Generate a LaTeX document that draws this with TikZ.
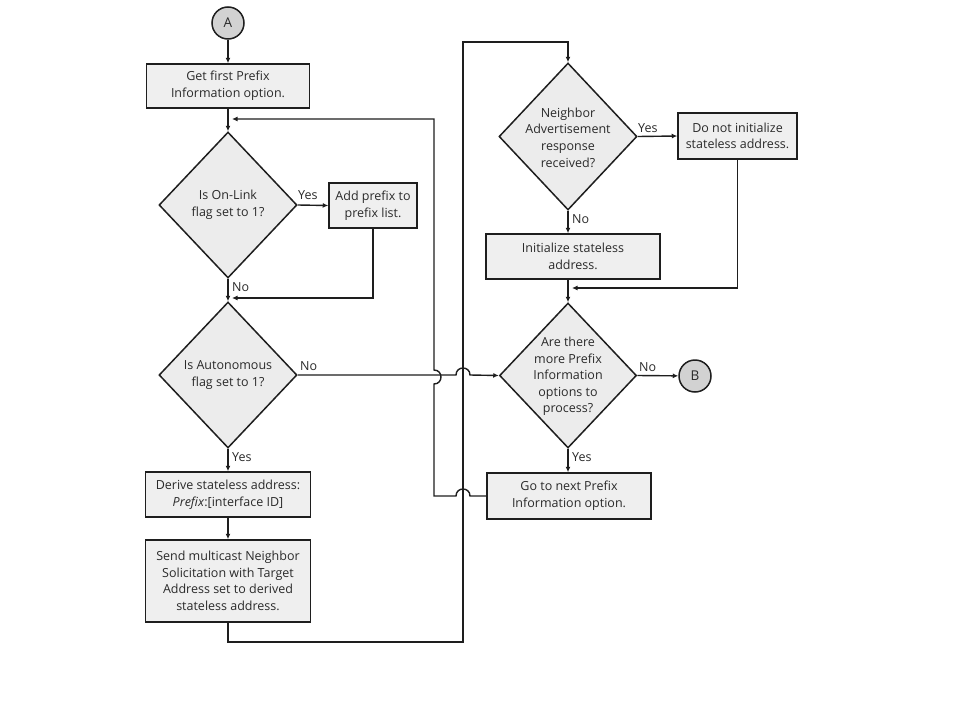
\documentclass[tikz,border=0pt]{standalone}
\usepackage{fontspec}
\setmainfont{Open Sans}
\usetikzlibrary{shapes.geometric,arrows.meta}
\definecolor{linec}{HTML}{1E1E1E}
\definecolor{boxfill}{HTML}{EFEFEF}
\definecolor{diafill}{HTML}{ECECEC}
\definecolor{circfill}{HTML}{D2D2D2}
\definecolor{txt}{HTML}{2A2A2A}
\tikzset{
  box/.style={draw=linec, fill=boxfill, line width=1.5pt, inner sep=0pt, text=txt, align=center, font=\fontsize{12.5}{16.6}\selectfont},
  dia/.style={draw=linec, fill=diafill, line width=1.5pt, diamond, inner sep=0pt},
  diatext/.style={text=txt, align=center, font=\fontsize{12.5}{16.6}\selectfont, inner sep=0pt},
  term/.style={draw=linec, fill=circfill, line width=1.5pt, circle, minimum size=32pt, inner sep=0pt, text=txt, font=\fontsize{13.5}{15}\selectfont},
  lbl/.style={text=txt, font=\fontsize{12.5}{14}\selectfont, inner sep=0pt},
  conn/.style={draw=linec, line width=1.4pt},
  arr/.style={conn, -{Latex[length=5.5pt,width=5pt]}}
}
\begin{document}
\begin{tikzpicture}[x=1pt,y=-1pt]
\useasboundingbox[fill=white] (0,0) rectangle (960,720);
% left column
\node[term] (A) at (228,23) {A};
\node[box, minimum width=163pt, minimum height=44pt] (b1) at (228,86) {Get first Prefix\\Information option.};
\node[dia, minimum width=138pt, minimum height=146pt] (d1) at (228,205) {};
\node[diatext] (d1t) at (228,205) {Is On-Link\\flag set to 1?};
\node[box, minimum width=88pt, minimum height=45pt] (b2) at (373,205.5) {Add prefix to\\prefix list.};
\node[dia, minimum width=138pt, minimum height=146pt] (d2) at (228,375) {};
\node[diatext] (d2t) at (228,375) {Is Autonomous\\flag set to 1?};
\node[box, minimum width=165pt, minimum height=45pt] (b3) at (228,494.5) {Derive stateless address:\\\textit{Prefix}:[interface ID]};
\node[box, minimum width=165pt, minimum height=82pt] (b4) at (228,581) {Send multicast Neighbor\\Solicitation with Target\\Address set to derived\\stateless address.};
% right column
\node[dia, minimum width=138pt, minimum height=147pt] (d3) at (568,136.5) {};
\node[diatext] (d3t) at (568,137.5) {Neighbor\\Advertisement\\response\\received?};
\node[box, minimum width=119pt, minimum height=46pt] (b5) at (737.5,136) {Do not initialize\\stateless address.};
\node[box, minimum width=174pt, minimum height=45pt] (b6) at (573,256.5) {Initialize stateless\\address.};
\node[dia, minimum width=137pt, minimum height=145pt] (d4) at (568,375.5) {};
\node[diatext] (d4t) at (568,376.5) {Are there\\more Prefix\\Information\\options to\\process?};
\node[term] (B) at (695,376) {B};
\node[box, minimum width=164pt, minimum height=46pt] (b7) at (569,496) {Go to next Prefix\\Information option.};
% labels
\node[lbl, anchor=south west] (l1) at (298,200) {Yes};
\node[lbl, anchor=west] (l2) at (232,287) {No};
\node[lbl, anchor=south west] (l3) at (300,371) {No};
\node[lbl, anchor=west] (l4) at (232,457) {Yes};
\node[lbl, anchor=south west] (l5) at (638,133) {Yes};
\node[lbl, anchor=west] (l6) at (572,219) {No};
\node[lbl, anchor=south west] (l7) at (639,372) {No};
\node[lbl, anchor=west] (l8) at (572,457) {Yes};
% helper coordinates
\coordinate (j1) at (232,298);
\coordinate (j2) at (232,119);
\coordinate (j3) at (572,288);
% connectors
\draw[arr] (A) -- (b1);
\draw[arr] (b1) -- (d1.north);
\draw[arr] (d1.east) -- (b2.west);
\draw[arr] (d1.south) -- (d2.north);
\draw[arr] (b2.south) |- (j1);
\draw[arr] (d2.south) -- (b3.north);
\draw[arr] (b3) -- (b4);
\draw[arr] (d3.east) -- (b5.west);
\draw[arr] (d3.south) -- (d3.south |- b6.north);
\draw[arr] (b5.south) |- (j3);
\draw[arr] (b6.south -| d4.north) -- (d4.north);
\draw[arr] (d4.east) -- (B);
\draw[arr] (d4.south) -- (d4.south |- b7.north);
% autonomous No -> d4 with jump over x=463
\draw[arr] (d2.east) -- (456,375) .. controls (456,365.7) and (470,365.7) .. (470,375) -- (d4.west);
% send multicast -> neighbor advertisement diamond
\draw[arr] (b4.south) -- (228,642) -- (463,642) -- (463,42) -- (568,42) -- (d3.north);
% go to next -> back to top, jumping
\draw[arr] (b7.west |- 0,496) -- (470,496) .. controls (470,486.7) and (456,486.7) .. (456,496) -- (434,496) -- (434,384) .. controls (443.3,384) and (443.3,370) .. (434,370) -- (434,119) -- (j2);
\end{tikzpicture}
\end{document}
